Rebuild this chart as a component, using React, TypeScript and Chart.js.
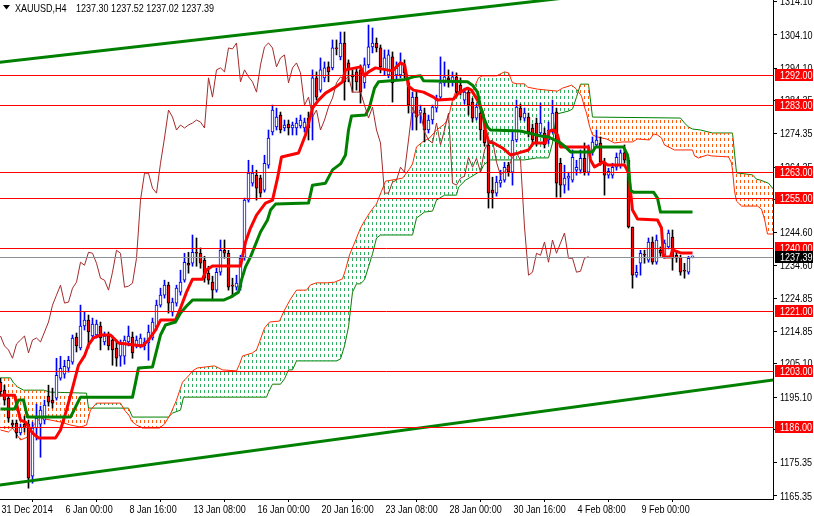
import React, { useEffect, useRef } from 'react';
import { Chart, registerables } from 'chart.js';

Chart.register(...registerables);

const FONT_FAMILY = '"Liberation Sans", Arial, sans-serif';
const TEXT_SQUEEZE = 0.82;

const symbolTitle = 'XAUUSD,H4';
const lastQuote = [1237.3, 1237.52, 1237.02, 1237.39];

const xTickIndex = [0, 16, 32, 48, 64, 80, 96, 112, 128, 144, 160];
const xTickLabels = ['31 Dec 2014', '6 Jan 00:00', '8 Jan 16:00', '13 Jan 08:00', '16 Jan 00:00', '20 Jan 16:00', '23 Jan 08:00', '28 Jan 00:00', '30 Jan 16:00', '4 Feb 08:00', '9 Feb 00:00'];
const yTickValues = [1165.35, 1175.35, 1185.35, 1195.1, 1205.1, 1214.85, 1224.85, 1234.6, 1244.6, 1254.6, 1264.35, 1274.35, 1284.35, 1294.1, 1304.1, 1314.1];

const X_MIN = -0.125;
const X_MAX = 193.125;
const Y_MIN = 1164.44;
const Y_MAX = 1314.63;

const candleOpen = [
  1199.6, 1197.2, 1194.8, 1187.3, 1187.3, 1184.3, 1187.0, 1187.0, 1171.3, 1185.8,
  1187.0, 1188.2, 1195.4, 1194.2, 1194.8, 1200.8, 1202.0, 1203.8, 1205.6, 1213.2,
  1209.9, 1216.5, 1218.3, 1213.5, 1213.8, 1216.5, 1211.7, 1213.5, 1212.3, 1209.9,
  1207.4, 1207.4, 1211.7, 1213.2, 1210.8, 1210.8, 1210.5, 1211.4, 1212.9, 1216.2,
  1222.8, 1225.8, 1228.8, 1220.7, 1223.4, 1226.7, 1230.3, 1235.4, 1235.4, 1238.7,
  1238.4, 1236.3, 1232.4, 1229.7, 1227.3, 1232.7, 1239.3, 1238.4, 1228.8, 1228.2,
  1228.2, 1237.2, 1254.4, 1259.5, 1261.9, 1261.0, 1257.4, 1264.9, 1274.9, 1276.4,
  1280.0, 1276.1, 1277.3, 1276.1, 1276.1, 1276.7, 1276.1, 1279.1, 1282.1, 1291.2,
  1287.5, 1291.2, 1294.5, 1294.2, 1300.2, 1297.5, 1301.7, 1295.7, 1292.1, 1293.0,
  1293.6, 1289.7, 1295.1, 1300.5, 1301.7, 1300.2, 1293.6, 1292.1, 1297.5, 1292.1,
  1292.1, 1295.1, 1289.7, 1280.6, 1285.4, 1280.6, 1280.6, 1275.5, 1278.5, 1282.1,
  1285.4, 1289.7, 1291.2, 1290.0, 1291.5, 1289.0, 1284.5, 1286.9, 1283.9, 1279.1,
  1280.6, 1275.5, 1271.0, 1257.4, 1256.5, 1259.5, 1260.4, 1264.9, 1262.8, 1272.5,
  1282.1, 1279.1, 1279.4, 1276.1, 1277.6, 1274.6, 1274.6, 1272.5, 1275.5, 1280.9,
  1265.5, 1258.9, 1261.0, 1260.4, 1263.4, 1263.4, 1267.0, 1262.8, 1268.9, 1271.0,
  1271.6, 1265.8, 1261.9, 1261.9, 1264.3, 1264.9, 1268.6, 1266.4, 1246.3, 1231.8,
  1235.4, 1238.1, 1236.3, 1241.8, 1235.7, 1239.3, 1237.8, 1240.3, 1243.3, 1237.8,
  1237.2, 1233.3, 1232.7, 1237.3,
];
const candleHigh = [
  1200.8, 1198.7, 1195.7, 1188.2, 1188.2, 1187.0, 1189.4, 1188.2, 1187.6, 1193.0,
  1192.4, 1194.2, 1198.7, 1197.8, 1206.8, 1207.4, 1206.2, 1207.4, 1213.8, 1214.4,
  1222.8, 1220.7, 1219.8, 1218.9, 1218.3, 1217.7, 1214.7, 1214.7, 1213.5, 1212.3,
  1212.3, 1213.5, 1216.5, 1214.7, 1213.5, 1214.1, 1212.9, 1216.8, 1218.9, 1224.3,
  1227.9, 1230.3, 1229.7, 1224.9, 1228.8, 1233.3, 1238.4, 1238.7, 1243.9, 1243.0,
  1240.0, 1237.5, 1234.5, 1231.5, 1233.9, 1242.4, 1242.4, 1239.3, 1230.9, 1231.8,
  1237.8, 1255.0, 1266.4, 1264.9, 1263.4, 1261.9, 1267.9, 1275.5, 1283.0, 1282.1,
  1280.9, 1278.5, 1278.5, 1277.9, 1279.1, 1280.0, 1279.1, 1280.9, 1293.6, 1293.0,
  1297.2, 1296.0, 1296.0, 1302.6, 1302.6, 1305.0, 1305.0, 1296.6, 1293.6, 1294.2,
  1295.1, 1297.2, 1307.1, 1306.2, 1303.2, 1301.1, 1299.6, 1299.6, 1299.0, 1296.0,
  1298.7, 1296.6, 1291.2, 1286.9, 1286.9, 1283.0, 1282.1, 1280.0, 1283.0, 1286.0,
  1297.5, 1296.0, 1293.6, 1293.0, 1292.7, 1291.2, 1288.1, 1288.1, 1285.1, 1283.3,
  1282.1, 1277.0, 1272.5, 1261.3, 1261.6, 1263.4, 1265.8, 1265.8, 1275.5, 1284.5,
  1283.3, 1282.1, 1280.6, 1277.3, 1279.1, 1283.6, 1276.1, 1277.9, 1284.5, 1282.1,
  1267.0, 1264.9, 1262.8, 1269.5, 1266.4, 1269.5, 1271.6, 1271.0, 1273.4, 1275.5,
  1273.4, 1267.0, 1264.0, 1265.5, 1268.6, 1269.5, 1271.0, 1267.3, 1246.3, 1234.8,
  1239.3, 1239.3, 1243.0, 1243.3, 1243.9, 1240.3, 1242.4, 1245.4, 1245.4, 1239.3,
  1237.8, 1235.4, 1237.5, 1237.52,
];
const candleLow = [
  1195.4, 1192.7, 1187.6, 1185.8, 1182.8, 1183.7, 1184.6, 1167.7, 1169.2, 1182.2,
  1177.0, 1187.0, 1192.4, 1191.8, 1194.2, 1200.2, 1200.8, 1202.6, 1205.0, 1208.7,
  1209.3, 1215.3, 1209.9, 1212.3, 1212.9, 1209.3, 1210.8, 1209.3, 1204.7, 1204.4,
  1204.4, 1205.0, 1210.5, 1206.8, 1209.9, 1209.9, 1209.3, 1206.2, 1212.3, 1215.3,
  1222.2, 1224.9, 1220.4, 1219.5, 1222.5, 1225.8, 1229.7, 1232.4, 1234.5, 1234.5,
  1233.9, 1229.7, 1229.1, 1224.3, 1226.7, 1231.8, 1236.9, 1227.3, 1225.2, 1227.3,
  1227.3, 1236.3, 1253.8, 1258.6, 1254.4, 1255.3, 1256.8, 1264.0, 1274.0, 1275.5,
  1274.6, 1275.2, 1274.0, 1274.0, 1274.0, 1276.1, 1274.9, 1272.5, 1272.5, 1284.5,
  1286.9, 1290.0, 1290.0, 1293.6, 1298.1, 1296.6, 1284.5, 1290.0, 1286.9, 1287.5,
  1283.6, 1288.1, 1294.2, 1298.7, 1299.0, 1292.7, 1292.1, 1291.2, 1283.9, 1290.6,
  1291.2, 1291.2, 1280.6, 1275.5, 1275.5, 1277.6, 1271.9, 1274.6, 1277.3, 1280.9,
  1284.5, 1288.7, 1288.4, 1288.7, 1285.4, 1286.0, 1283.3, 1280.0, 1277.9, 1278.5,
  1272.5, 1270.7, 1252.0, 1252.0, 1255.6, 1258.3, 1259.8, 1261.6, 1258.9, 1271.9,
  1278.5, 1278.2, 1273.4, 1271.0, 1270.7, 1273.7, 1270.1, 1271.3, 1274.6, 1255.3,
  1255.3, 1256.5, 1257.4, 1259.8, 1261.9, 1262.5, 1261.9, 1261.9, 1267.9, 1270.4,
  1264.9, 1255.9, 1261.0, 1261.0, 1263.4, 1264.0, 1265.5, 1246.0, 1227.9, 1231.2,
  1231.8, 1235.4, 1235.7, 1235.1, 1235.1, 1237.5, 1236.9, 1239.7, 1233.3, 1235.7,
  1231.8, 1230.9, 1232.1, 1237.02,
];
const candleClose = [
  1196.7, 1194.2, 1188.8, 1186.7, 1184.3, 1186.1, 1185.8, 1170.7, 1185.8, 1188.8,
  1191.2, 1192.7, 1193.6, 1193.3, 1201.7, 1203.8, 1204.4, 1206.2, 1212.9, 1210.5,
  1216.5, 1218.3, 1214.7, 1217.1, 1217.1, 1212.9, 1213.5, 1210.5, 1209.3, 1206.8,
  1211.1, 1212.3, 1213.5, 1208.4, 1212.3, 1212.9, 1211.7, 1214.7, 1217.7, 1222.8,
  1225.8, 1228.8, 1223.4, 1223.7, 1227.9, 1229.7, 1235.7, 1234.8, 1238.7, 1238.4,
  1235.4, 1230.9, 1230.3, 1227.3, 1232.7, 1239.3, 1238.4, 1228.2, 1228.5, 1229.4,
  1236.9, 1254.4, 1262.5, 1262.5, 1258.0, 1256.5, 1265.5, 1273.1, 1281.5, 1279.4,
  1275.5, 1277.0, 1276.1, 1277.0, 1277.6, 1278.5, 1277.9, 1276.1, 1291.2, 1285.4,
  1293.6, 1294.2, 1293.0, 1300.2, 1299.9, 1301.7, 1290.0, 1293.6, 1291.5, 1290.0,
  1286.9, 1295.1, 1300.5, 1301.7, 1300.2, 1294.5, 1297.2, 1298.1, 1289.7, 1294.2,
  1295.7, 1292.7, 1283.0, 1285.4, 1279.4, 1281.5, 1275.5, 1278.5, 1282.4, 1285.1,
  1289.7, 1291.5, 1290.6, 1291.5, 1286.9, 1286.9, 1286.9, 1283.0, 1279.1, 1282.4,
  1275.5, 1271.6, 1256.5, 1256.5, 1259.8, 1260.4, 1264.3, 1262.8, 1272.5, 1282.4,
  1279.4, 1280.6, 1274.9, 1272.5, 1271.6, 1277.6, 1271.0, 1275.5, 1280.6, 1259.5,
  1258.9, 1261.0, 1261.6, 1267.3, 1264.3, 1267.0, 1262.8, 1269.5, 1271.9, 1272.5,
  1265.8, 1261.9, 1263.1, 1264.3, 1267.3, 1268.6, 1266.4, 1246.3, 1231.8, 1232.7,
  1238.4, 1237.8, 1241.8, 1235.7, 1242.4, 1238.4, 1241.5, 1244.5, 1236.9, 1236.9,
  1232.7, 1233.0, 1236.9, 1237.39,
];

// Tenkan-sen vertices [bar index, price]
const tenkanSen = [
  [0, 1195.7], [3.5, 1195.7], [5, 1188.2], [6.25, 1187.6], [8, 1184.3], [9.5, 1182.8], [13.75, 1182.8],
  [15, 1185.2], [16.5, 1191.2], [18, 1197.8], [19.5, 1204.7], [21, 1207.5], [22, 1210.8], [23.25, 1212.9],
  [25, 1213.8], [27.5, 1213.8], [29.5, 1211.4], [35.5, 1210.5], [37, 1212.3], [38.75, 1215.3], [40, 1218.3],
  [43.75, 1218.3], [45, 1221.9], [46.5, 1226.7], [48, 1230.6], [50.5, 1230.6], [51.5, 1233.4], [53, 1234.6],
  [60, 1234.6], [61.25, 1241.8], [62.5, 1246.0], [64, 1249.9], [66.25, 1253.5], [68, 1254.4], [69.25, 1261.0],
  [70.25, 1267.4], [74.5, 1268.6], [76.25, 1274.0], [78, 1282.1], [79.5, 1284.5], [81.25, 1286.6],
  [83.75, 1288.4], [85.5, 1290.0], [86.25, 1293.6], [90, 1294.5], [91, 1291.8], [92, 1293.0], [93.75, 1294.2],
  [98, 1293.3], [100, 1295.7], [101, 1295.1], [102, 1288.7], [103.25, 1287.5], [105.75, 1286.9],
  [108.25, 1285.4], [109.25, 1284.5], [113.25, 1284.8], [114.5, 1286.6], [116.75, 1288.1], [117.75, 1287.5],
  [119.25, 1284.5], [120.5, 1280.9], [121.25, 1275.5], [122, 1271.9], [123.25, 1271.6], [125.5, 1270.1],
  [127.5, 1268.0], [129.5, 1268.6], [132, 1269.5], [133.25, 1271.6], [136.25, 1271.6], [137.25, 1275.2],
  [138.25, 1275.5], [139.25, 1274.0], [140, 1270.4], [147, 1270.4], [147.5, 1266.5], [148.5, 1264.4],
  [150.75, 1265.9], [151.75, 1265.0], [156, 1265.0], [157, 1262.6], [158, 1251.4], [159.25, 1248.7],
  [164.25, 1248.4], [165.25, 1246.0], [165.75, 1237.3], [167.5, 1237.3], [168, 1239.4], [170, 1238.5],
  [173, 1238.5],
];

// Kijun-sen vertices [bar index, price]
const kijunSen = [
  [0, 1191.5], [3.5, 1191.5], [4.5, 1194.2], [5.75, 1194.2], [6.75, 1189.1], [17.5, 1189.1], [18.75, 1192.1],
  [20, 1195.1], [33, 1195.1], [33.75, 1199.4], [34.5, 1203.9], [38, 1204.2], [38.75, 1207.8], [40, 1213.8],
  [41.25, 1216.8], [43.75, 1217.7], [45, 1220.4], [46.75, 1222.8], [48, 1224.3], [55.75, 1224.3],
  [57.5, 1225.2], [59.5, 1226.7], [60.25, 1230.4], [61.25, 1234.3], [62.5, 1237.3], [65, 1244.8],
  [66.75, 1248.4], [67.5, 1251.4], [68.75, 1253.2], [77, 1253.5], [78, 1258.9], [81.25, 1259.5],
  [83, 1263.5], [85, 1265.3], [86.25, 1268.0], [87, 1275.5], [87.75, 1279.7], [91.25, 1280.0],
  [92.25, 1282.4], [93.5, 1288.1], [94.5, 1290.0], [100.75, 1290.6], [103.25, 1291.5], [105, 1291.8],
  [105.75, 1290.3], [116.75, 1290.0], [118, 1289.0], [119.25, 1286.9], [120, 1282.4], [120.75, 1279.4],
  [121.75, 1276.4], [122.5, 1275.5], [130, 1275.2], [135, 1273.7], [137, 1273.4], [140, 1271.6],
  [141.25, 1270.4], [142.5, 1268.9], [148, 1268.9], [148.75, 1270.4], [155.75, 1270.4], [156.75, 1268.0],
  [157.5, 1257.4], [158.25, 1256.8], [163.25, 1256.8], [164.25, 1255.0], [165, 1250.8], [173, 1250.8],
];

// Senkou Span A vertices [bar index, price]
const senkouA = [
  [0, 1185.2], [2, 1184.6], [3, 1185.8], [5, 1182.2], [6.75, 1183.1], [8.25, 1186.7], [10, 1188.8],
  [12.5, 1188.2], [15, 1187.6], [17.5, 1186.7], [20, 1186.1], [21.5, 1186.7], [22.5, 1191.2], [24, 1193.3],
  [30, 1193.3], [31, 1191.2], [32.25, 1189.4], [32.75, 1187.9], [34, 1186.7], [35.5, 1185.8], [39.75, 1185.8],
  [41, 1187.0], [42.5, 1190.0], [44, 1194.2], [45.5, 1199.6], [47, 1201.5], [48, 1203.0], [49.25, 1203.9],
  [53.5, 1204.5], [55.5, 1203.3], [59, 1203.0], [59.75, 1205.0], [60.5, 1207.5], [63, 1208.4], [64, 1209.3],
  [64.75, 1211.7], [66, 1215.9], [67.25, 1217.7], [69.75, 1218.0], [71, 1221.3], [72.5, 1224.6], [74, 1227.3],
  [76.5, 1227.3], [77.5, 1228.9], [79, 1229.5], [81.75, 1229.5], [83.5, 1229.7], [85.5, 1230.7],
  [86.25, 1233.4], [87.25, 1237.9], [88.5, 1241.5], [90, 1246.0], [91, 1248.1], [92.25, 1250.5],
  [93.5, 1252.6], [94, 1253.2], [94.75, 1255.6], [95.25, 1257.1], [96.25, 1260.1], [100.5, 1261.0],
  [102.25, 1263.8], [103, 1265.3], [104, 1270.4], [105.5, 1271.9], [107.25, 1273.1], [109, 1275.5],
  [111, 1277.3], [111.5, 1278.2], [112.25, 1280.6], [113, 1284.5], [113.75, 1286.9], [116, 1287.2],
  [117, 1286.0], [118.25, 1287.8], [119.5, 1291.2], [120.5, 1291.8], [124, 1291.8], [126, 1293.0],
  [127, 1292.7], [128, 1289.7], [129.25, 1289.4], [131, 1289.4], [131.75, 1288.4], [134.25, 1287.8],
  [139.25, 1287.2], [140.5, 1288.1], [142.75, 1289.0], [144, 1287.8], [145.25, 1285.7], [146, 1282.4],
  [146.5, 1280.6], [147.25, 1276.7], [148, 1274.0], [149.25, 1273.4], [151.5, 1272.8], [153.5, 1271.6],
  [155.5, 1271.9], [158, 1271.9], [159.25, 1272.8], [162.25, 1272.5], [163.25, 1274.3], [164.25, 1274.0],
  [165.25, 1273.1], [166, 1271.0], [168.5, 1269.5], [173, 1269.5], [173.5, 1267.7], [174.5, 1267.1],
  [176.75, 1268.0], [177.75, 1267.7], [182, 1267.4], [182.75, 1265.6], [183, 1263.4], [183.5, 1257.1],
  [184, 1254.1], [185.25, 1252.6], [189.25, 1252.6], [190.25, 1251.7], [191, 1248.7], [191.75, 1244.2],
  [195, 1244.2],
];

// Senkou Span B vertices [bar index, price]
const senkouB = [
  [0, 1200.9], [2.5, 1200.9], [3.25, 1199.4], [4.25, 1198.2], [5.75, 1197.2], [10.75, 1197.2], [12.5, 1196.6],
  [21.5, 1196.3], [22, 1191.8], [32, 1191.8], [33, 1189.1], [42, 1189.1], [43, 1190.3], [45, 1191.2],
  [45.75, 1195.1], [66.5, 1195.1], [67, 1196.6], [68, 1199.0], [70, 1199.0], [71, 1200.6], [72, 1203.3],
  [73, 1203.3], [74, 1206.0], [84, 1206.0], [85, 1206.6], [86, 1210.5], [87, 1216.2], [88, 1226.7],
  [89, 1229.2], [90, 1229.2], [91, 1230.4], [92, 1234.3], [93, 1238.2], [94, 1243.0], [95, 1243.9],
  [103, 1243.9], [104, 1249.0], [106, 1250.8], [108, 1251.1], [109, 1254.4], [111, 1255.9], [114, 1255.9],
  [114.5, 1258.3], [116.25, 1260.4], [117.5, 1261.3], [119.25, 1262.6], [120, 1262.9], [120.75, 1264.9],
  [121.75, 1265.9], [122.5, 1266.5], [131, 1266.5], [134, 1267.1], [137, 1267.1], [138, 1271.6],
  [139, 1280.3], [142, 1281.2], [143, 1281.8], [144, 1285.4], [145, 1289.3], [147, 1289.3], [148, 1279.4],
  [170, 1279.1], [171, 1277.6], [172, 1276.4], [173, 1275.8], [175, 1275.5], [178, 1274.6], [183, 1274.6],
  [184, 1262.6], [188, 1262.0], [189, 1260.7], [190, 1260.4], [192, 1259.5], [193, 1258.0], [195, 1258.0],
];

// Chikou Span (close plotted 26 bars back), starting at bar index 0
const chikouSpan = [
  1213.5, 1210.5, 1209.3, 1206.8, 1211.1, 1212.3, 1213.5, 1208.4, 1212.3, 1212.9,
  1211.7, 1214.7, 1217.7, 1222.8, 1225.8, 1228.8, 1223.4, 1223.7, 1227.9, 1229.7,
  1235.7, 1234.8, 1238.7, 1238.4, 1235.4, 1230.9, 1230.3, 1227.3, 1232.7, 1239.3,
  1238.4, 1228.2, 1228.5, 1229.4, 1236.9, 1254.4, 1262.5, 1262.5, 1258.0, 1256.5,
  1265.5, 1273.1, 1281.5, 1279.4, 1275.5, 1277.0, 1276.1, 1277.0, 1277.6, 1278.5,
  1277.9, 1276.1, 1291.2, 1285.4, 1293.6, 1294.2, 1293.0, 1300.2, 1299.9, 1301.7,
  1290.0, 1293.6, 1291.5, 1290.0, 1286.9, 1295.1, 1300.5, 1301.7, 1300.2, 1294.5,
  1297.2, 1298.1, 1289.7, 1294.2, 1295.7, 1292.7, 1283.0, 1285.4, 1279.4, 1281.5,
  1275.5, 1278.5, 1282.4, 1285.1, 1289.7, 1291.5, 1290.6, 1291.5, 1286.9, 1286.9,
  1286.9, 1283.0, 1279.1, 1282.4, 1275.5, 1271.6, 1256.5, 1256.5, 1259.8, 1260.4,
  1264.3, 1262.8, 1272.5, 1282.4, 1279.4, 1280.6, 1274.9, 1272.5, 1271.6, 1277.6,
  1271.0, 1275.5, 1280.6, 1259.5, 1258.9, 1261.0, 1261.6, 1267.3, 1264.3, 1267.0,
  1262.8, 1269.5, 1271.9, 1272.5, 1265.8, 1261.9, 1263.1, 1264.3, 1267.3, 1268.6,
  1266.4, 1246.3, 1231.8, 1232.7, 1238.4, 1237.8, 1241.8, 1235.7, 1242.4, 1238.4,
  1241.5, 1244.5, 1236.9, 1236.9, 1232.7, 1233.0, 1236.9, 1237.39,
];

const trendUpper = [[-1, 1295.76], [194, 1322.5]];
const trendLower = [[-1, 1168.5], [194, 1200.4]];

const levels = [1292, 1283, 1263, 1255, 1240, 1221, 1203, 1186];
const bidPrice = 1237.39;

const toPts = (arr: number[][]) => arr.map(([x, y]) => ({ x, y }));

function squeezedText(c: CanvasRenderingContext2D, text: string, x: number, y: number) {
  c.save();
  c.translate(x, y);
  c.scale(TEXT_SQUEEZE, 1);
  c.fillText(text, 0, 0);
  c.restore();
}

export default function App() {
  const ref = useRef<HTMLCanvasElement | null>(null);

  useEffect(() => {
    document.body.style.margin = '0';
    const canvas = ref.current!;
    const ctx = canvas.getContext('2d')!;

    const mkPattern = (color: string) => {
      const c = document.createElement('canvas');
      c.width = 4;
      c.height = 6;
      const g = c.getContext('2d')!;
      g.fillStyle = color;
      g.fillRect(0, 0, 1, 3);
      return ctx.createPattern(c, 'repeat');
    };
    const greenHatch = mkPattern('#2fae5f');
    const orangeHatch = mkPattern('#ff5a0a');

    const idx = candleOpen.map((_, i) => i);
    const bull = idx.map((i) => candleClose[i] >= candleOpen[i]);

    const overlay = {
      id: 'overlay',
      afterDatasetsDraw(chart: any) {
        const { ctx: c, chartArea: a, scales } = chart;
        const y = scales.y;
        c.save();
        c.beginPath();
        c.rect(a.left, a.top, a.right - a.left, a.bottom - a.top);
        c.clip();
        c.lineWidth = 1;
        const yb = Math.round(y.getPixelForValue(bidPrice)) + 0.5;
        c.strokeStyle = '#8c9097';
        c.beginPath();
        c.moveTo(a.left, yb);
        c.lineTo(a.right, yb);
        c.stroke();
        c.strokeStyle = '#ff0000';
        levels.forEach((lv) => {
          const yy = Math.round(y.getPixelForValue(lv)) + 0.5;
          c.beginPath();
          c.moveTo(a.left, yy);
          c.lineTo(a.right, yy);
          c.stroke();
        });
        c.restore();
      },
      afterDraw(chart: any) {
        const { ctx: c, chartArea: a, scales } = chart;
        const x = scales.x;
        const y = scales.y;
        c.save();
        c.font = `11px ${FONT_FAMILY}`;
        c.textAlign = 'left';
        c.fillStyle = '#000000';

        // value axis labels
        c.textBaseline = 'middle';
        y.ticks.forEach((t: any) => {
          squeezedText(c, Number(t.value).toFixed(2), a.right + 7, y.getPixelForValue(t.value) + 0.5);
        });
        // time axis labels
        c.textBaseline = 'alphabetic';
        x.ticks.forEach((t: any, i: number) => {
          squeezedText(c, xTickLabels[i], x.getPixelForValue(t.value) + 1, a.bottom + 14);
        });

        // price boxes
        c.textBaseline = 'middle';
        const box = (v: number, bg: string) => {
          const yy = Math.round(y.getPixelForValue(v));
          c.fillStyle = bg;
          c.fillRect(a.right + 2, yy - 6, 38, 12);
          c.fillStyle = '#ffffff';
          squeezedText(c, v.toFixed(2), a.right + 7, yy + 0.5);
        };
        levels.forEach((lv) => box(lv, '#ff0000'));
        box(bidPrice, '#000000');

        // header
        c.fillStyle = '#000000';
        c.beginPath();
        c.moveTo(3, 5);
        c.lineTo(10, 5);
        c.lineTo(6.5, 9.5);
        c.closePath();
        c.fill();
        c.textBaseline = 'alphabetic';
        squeezedText(c, symbolTitle, 15, 11.5);
        squeezedText(c, lastQuote.map((v) => v.toFixed(2)).join(' '), 76, 11.5);
        c.restore();
      },
    };

    const lineDs = (label: string, data: any[], color: string, width: number, order: number, extra: any = {}) => ({
      type: 'line',
      label,
      data,
      borderColor: color,
      borderWidth: width,
      pointRadius: 0,
      pointHoverRadius: 0,
      fill: false,
      tension: 0,
      order,
      clip: 0,
      borderJoinStyle: 'round',
      ...extra,
    });

    const chart = new Chart(canvas, {
      type: 'line',
      data: {
        datasets: [
          lineDs('Senkou Span B', toPts(senkouB), '#008000', 1, 20),
          lineDs('Senkou Span A', toPts(senkouA), '#ff2a00', 1, 19, {
            fill: { target: 0, above: greenHatch, below: orangeHatch },
          }),
          {
            type: 'bar',
            label: 'wick',
            data: idx.map((i) => ({ x: i, y: [candleLow[i], candleHigh[i]] })),
            backgroundColor: idx.map((i) => (bull[i] ? '#0000ff' : '#000000')),
            borderWidth: 0,
            barThickness: 1,
            grouped: false,
            minBarLength: 1,
            order: 18,
            clip: 0,
          },
          {
            type: 'bar',
            label: 'body',
            data: idx.map((i) => ({ x: i, y: [candleOpen[i], candleClose[i]] })),
            backgroundColor: idx.map((i) => (bull[i] ? '#ffffff' : '#ff0000')),
            borderColor: idx.map((i) => (bull[i] ? '#0000ff' : '#000000')),
            borderWidth: 1,
            borderSkipped: false,
            barThickness: 3,
            grouped: false,
            minBarLength: 1,
            order: 17,
            clip: 0,
          },
          lineDs('Tenkan-sen', toPts(tenkanSen), '#ff0000', 3, 16),
          lineDs('Kijun-sen', toPts(kijunSen), '#008000', 3, 15),
          lineDs('Chikou Span', chikouSpan.map((v, j) => ({ x: j, y: v })), '#a52a2a', 1, 14),
          lineDs('Trend upper', toPts(trendUpper), '#008000', 3, 13),
          lineDs('Trend lower', toPts(trendLower), '#008000', 3, 12),
        ] as any,
      },
      options: {
        animation: false,
        responsive: false,
        maintainAspectRatio: false,
        events: [],
        layout: { padding: 0 },
        plugins: {
          legend: { display: false },
          tooltip: { enabled: false },
          title: { display: false },
        },
        scales: {
          x: {
            type: 'linear',
            min: X_MIN,
            max: X_MAX,
            offset: false,
            afterBuildTicks: (scale: any) => {
              scale.ticks = xTickIndex.map((v) => ({ value: v }));
            },
            afterFit: (scale: any) => {
              scale.height = 17;
              scale.paddingLeft = 0;
              scale.paddingRight = 0;
            },
            ticks: { display: false, autoSkip: false, maxRotation: 0, minRotation: 0 },
            grid: {
              display: true,
              drawOnChartArea: false,
              drawTicks: true,
              tickLength: 3,
              color: '#000000',
            },
            border: { display: true, color: '#000000', width: 1 },
          },
          y: {
            type: 'linear',
            position: 'right',
            min: Y_MIN,
            max: Y_MAX,
            afterBuildTicks: (scale: any) => {
              scale.ticks = yTickValues.map((v) => ({ value: v }));
            },
            afterFit: (scale: any) => {
              scale.width = 41;
              scale.paddingTop = 0;
              scale.paddingBottom = 0;
            },
            ticks: { display: false, autoSkip: false },
            grid: {
              display: true,
              drawOnChartArea: false,
              drawTicks: true,
              tickLength: 4,
              color: '#000000',
            },
            border: { display: true, color: '#000000', width: 1 },
          },
        },
      } as any,
      plugins: [overlay],
    } as any);

    return () => chart.destroy();
  }, []);

  return (
    <div style={{ position: 'absolute', left: 0, top: 0, width: 814, height: 516, background: '#ffffff' }}>
      <canvas ref={ref} width={814} height={516} style={{ display: 'block' }} />
    </div>
  );
}
